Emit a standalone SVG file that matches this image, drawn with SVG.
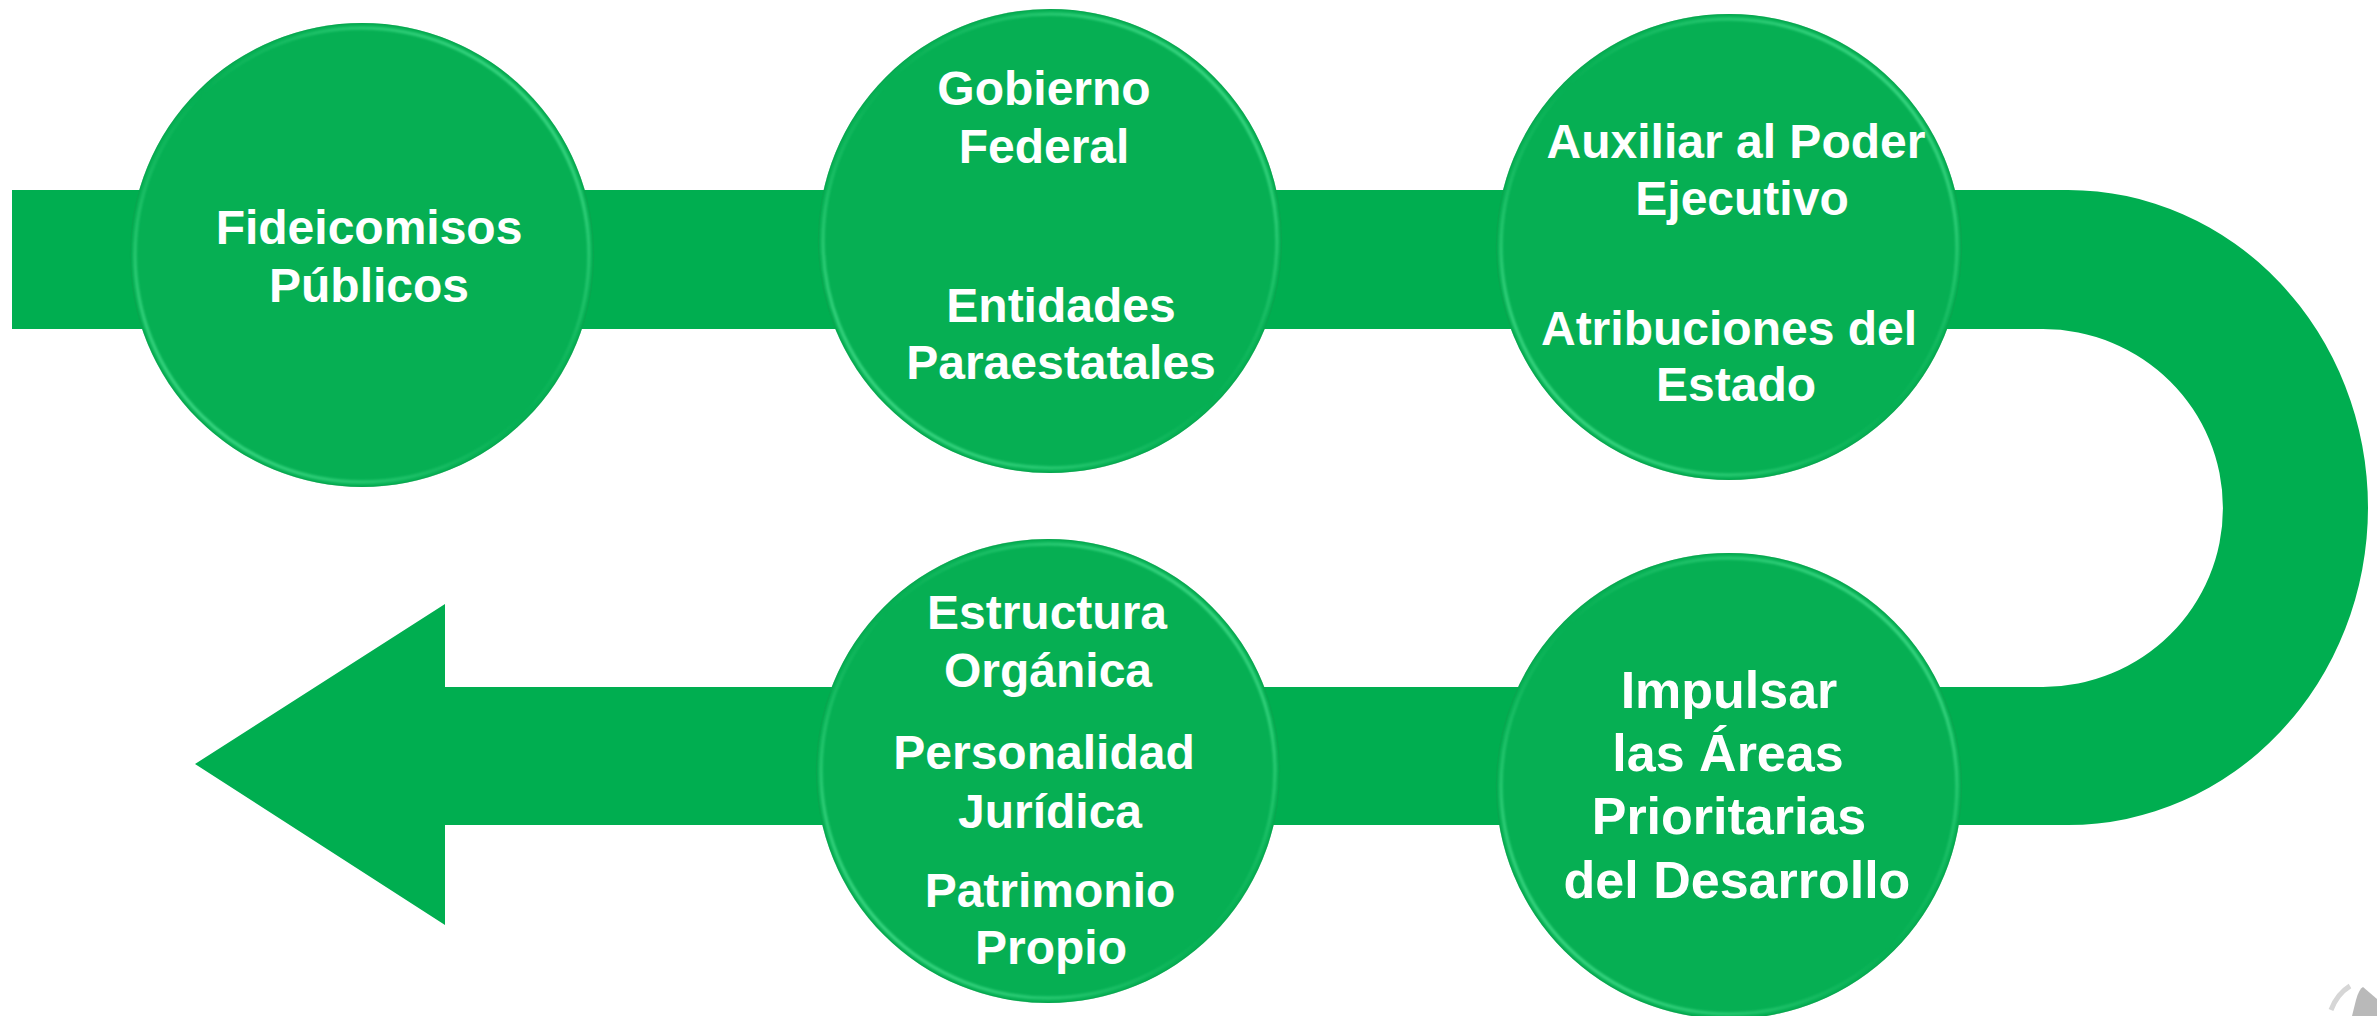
<svg xmlns="http://www.w3.org/2000/svg" width="2377" height="1016" viewBox="0 0 2377 1016">
<style>
  .band { fill: #00AE50; }
  .disc { fill: #06AF53; }
  .edge { fill: none; stroke: #0E9E4B; stroke-width: 1.2; opacity: 0.45; }
  .ring { fill: none; stroke: url(#ringGrad); stroke-width: 3.5; filter: url(#soft); }
  .lbl { font-family: "Liberation Sans", Arial, sans-serif; font-weight: bold; font-size: 48px; fill: #FFFFFF; text-anchor: middle; }
  .big { font-size: 52px; }
</style>
<defs>
  <linearGradient id="ringGrad" x1="1" y1="0" x2="0" y2="1">
    <stop offset="0" stop-color="#5CF0A2" stop-opacity="0.85"/>
    <stop offset="0.25" stop-color="#4BE592" stop-opacity="0.45"/>
    <stop offset="0.5" stop-color="#3CD884" stop-opacity="0"/>
    <stop offset="0.75" stop-color="#4BE592" stop-opacity="0.45"/>
    <stop offset="1" stop-color="#5CF0A2" stop-opacity="0.85"/>
  </linearGradient>
  <filter id="soft" x="-5%" y="-5%" width="110%" height="110%">
    <feGaussianBlur stdDeviation="1.2"/>
  </filter>
</defs>
<rect width="2377" height="1016" fill="#FFFFFF"/>

<g id="connectors">
  <path class="band" d="M12,190 L2068,190 A300,317.5 0 0 1 2068,825 L445,825 L445,925 L195,764 L445,604 L445,687 L2043,687 A180,179 0 0 0 2043,329 L12,329 Z"/>
</g>

<g id="node-fideicomisos">
  <circle class="disc" cx="362" cy="255" r="232"/>
  <circle class="ring" cx="362" cy="255" r="227"/>
  <circle class="edge" cx="362" cy="255" r="231.5"/>
  <text class="lbl" x="369" y="244">Fideicomisos</text>
  <text class="lbl" x="369" y="302">Públicos</text>
</g>

<g id="node-gobierno">
  <circle class="disc" cx="1050" cy="241" r="232"/>
  <circle class="ring" cx="1050" cy="241" r="227"/>
  <circle class="edge" cx="1050" cy="241" r="231.5"/>
  <text class="lbl" x="1044" y="105">Gobierno</text>
  <text class="lbl" x="1044" y="163">Federal</text>
  <text class="lbl" x="1061" y="322">Entidades</text>
  <text class="lbl" x="1061" y="379">Paraestatales</text>
</g>

<g id="node-auxiliar">
  <circle class="disc" cx="1729" cy="247" r="233"/>
  <circle class="ring" cx="1729" cy="247" r="228"/>
  <circle class="edge" cx="1729" cy="247" r="232.5"/>
  <text class="lbl" x="1736" y="158">Auxiliar al Poder</text>
  <text class="lbl" x="1742" y="215">Ejecutivo</text>
  <text class="lbl" x="1729" y="345">Atribuciones del</text>
  <text class="lbl" x="1736" y="401">Estado</text>
</g>

<g id="node-impulsar">
  <circle class="disc" cx="1729" cy="786" r="233"/>
  <circle class="ring" cx="1729" cy="786" r="228"/>
  <circle class="edge" cx="1729" cy="786" r="232.5"/>
  <text class="lbl big" x="1729" y="708">Impulsar</text>
  <text class="lbl big" x="1728" y="771">las Áreas</text>
  <text class="lbl big" x="1729" y="834">Prioritarias</text>
  <text class="lbl big" x="1737" y="898">del Desarrollo</text>
</g>

<g id="node-estructura">
  <circle class="disc" cx="1048" cy="771" r="232"/>
  <circle class="ring" cx="1048" cy="771" r="227"/>
  <circle class="edge" cx="1048" cy="771" r="231.5"/>
  <text class="lbl" x="1047" y="629">Estructura</text>
  <text class="lbl" x="1048" y="687">Orgánica</text>
  <text class="lbl" x="1044" y="769">Personalidad</text>
  <text class="lbl" x="1050" y="828">Jurídica</text>
  <text class="lbl" x="1050" y="907">Patrimonio</text>
  <text class="lbl" x="1051" y="964">Propio</text>
</g>

<g id="corner-mark">
  <path d="M2331,1010 Q2337,994 2350,986" fill="none" stroke="#D6D6D6" stroke-width="5"/>
  <path d="M2352,1016 L2356,1000 Q2359,989 2363,987 L2377,999 L2377,1016 Z" fill="#B9B9B9"/>
</g>
</svg>
